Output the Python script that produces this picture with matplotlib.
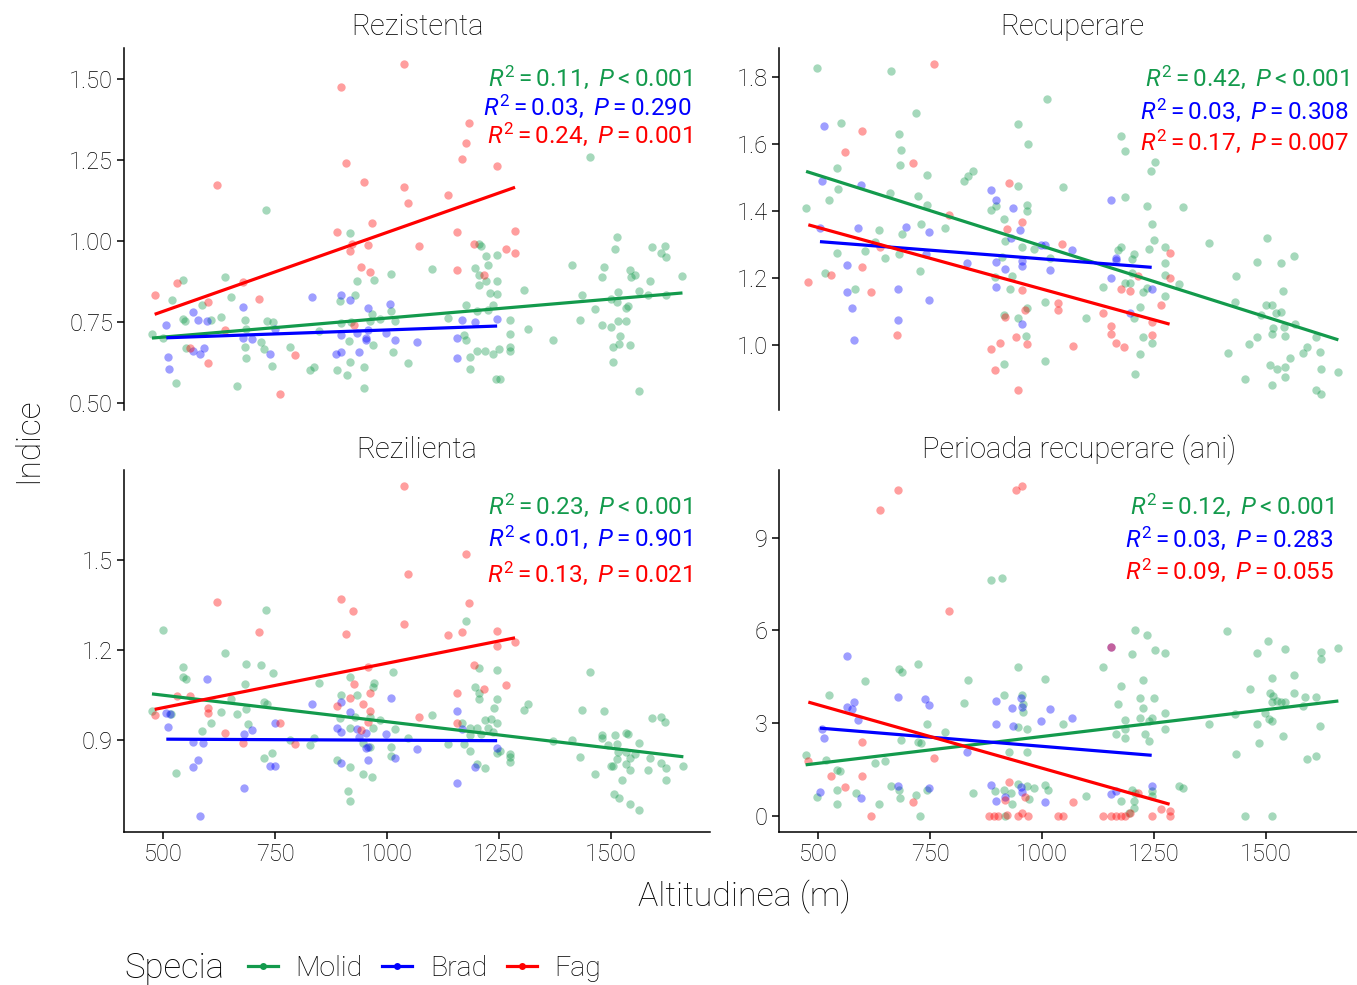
import matplotlib
matplotlib.use("Agg")
import matplotlib.pyplot as plt
from matplotlib.lines import Line2D
import numpy as np

plt.rcParams['font.family'] = ['Roboto', 'DejaVu Sans']
plt.rcParams['font.weight'] = 'light'
plt.rcParams['mathtext.fontset'] = 'custom'
plt.rcParams['mathtext.rm'] = 'Roboto:weight=normal'
plt.rcParams['mathtext.it'] = 'Roboto:italic:weight=normal'

# species and colours
species = ['Molid', 'Brad', 'Fag']
colors = ['#139a4c', '#0000ff', '#ff0000']

# ---- Rezistenta (altitude, value) ----
rezistenta_molid = np.array([
    (475, 0.714), (499, 0.700), (519, 0.819), (545, 0.879), (528, 0.562), (545, 0.760), (548, 0.752),
    (551, 0.669), (586, 0.804), (607, 0.755), (637, 0.890), (652, 0.828), (630, 0.765), (665, 0.552),
    (683, 0.756), (684, 0.728), (683, 0.672), (686, 0.640), (729, 1.097), (719, 0.687), (725, 0.666),
    (731, 0.754), (745, 0.750), (744, 0.614), (784, 0.674), (827, 0.602), (836, 0.610), (847, 0.721),
    (888, 0.602), (911, 0.587), (918, 0.628), (948, 0.611), (948, 0.546), (917, 1.024), (933, 0.877),
    (929, 0.832), (895, 0.814), (915, 0.692), (897, 0.747), (920, 0.750), (970, 0.881), (967, 0.775),
    (961, 0.752), (984, 0.760), (1008, 0.897), (1008, 0.785), (1018, 0.752), (1013, 0.657), (1046, 0.622),
    (968, 0.680), (1206, 0.992), (1210, 0.984), (1221, 0.953), (1246, 0.958), (1226, 0.926), (1100, 0.914),
    (1196, 0.917), (1206, 0.896), (1221, 0.876), (1206, 0.863), (1246, 0.876), (1231, 0.840), (1246, 0.836),
    (1305, 0.850), (1176, 0.803), (1236, 0.803), (1225, 0.788), (1202, 0.783), (1137, 0.764), (1171, 0.711),
    (1176, 0.695), (1186, 0.641), (1201, 0.659), (1219, 0.659), (1236, 0.651), (1251, 0.666), (1275, 0.757),
    (1275, 0.713), (1275, 0.674), (1275, 0.662), (1315, 0.728), (1186, 0.605), (1243, 0.573), (1253, 0.573),
    (1370, 0.695), (1414, 0.927), (1435, 0.834), (1431, 0.756), (1464, 0.791), (1454, 1.260), (1480, 0.742),
    (1484, 0.919), (1481, 0.889), (1509, 0.977), (1513, 1.012), (1500, 0.822), (1515, 0.843), (1513, 0.811),
    (1515, 0.754), (1501, 0.735), (1534, 0.793), (1534, 0.752), (1539, 0.801), (1521, 0.708), (1505, 0.674),
    (1519, 0.682), (1543, 0.680), (1504, 0.628), (1563, 0.538), (1543, 0.911), (1554, 0.894), (1545, 0.888),
    (1563, 0.845), (1583, 0.833), (1587, 0.876), (1593, 0.983), (1611, 0.963), (1621, 0.985), (1623, 0.952),
    (1623, 0.834), (1660, 0.893)])
rezistenta_brad = np.array([
    (507, 0.742), (566, 0.780), (577, 0.757), (597, 0.753), (679, 0.797), (511, 0.643), (514, 0.605),
    (566, 0.662), (583, 0.651), (591, 0.669), (679, 0.700), (699, 0.698), (739, 0.651), (749, 0.728),
    (833, 0.826), (897, 0.832), (918, 0.817), (958, 0.793), (1007, 0.806), (898, 0.711), (933, 0.717),
    (958, 0.724), (952, 0.695), (953, 0.702), (998, 0.717), (1018, 0.694), (1067, 0.688), (887, 0.651),
    (898, 0.656), (938, 0.656), (1167, 0.756), (1196, 0.750), (1246, 0.759), (1156, 0.702), (1156, 0.640)])
rezistenta_fag = np.array([
    (1037, 1.546), (897, 1.477), (908, 1.243), (948, 1.183), (1037, 1.167), (1046, 1.119), (620, 1.175),
    (888, 1.029), (967, 1.055), (922, 0.992), (958, 0.987), (918, 0.969), (1071, 0.984), (942, 0.920),
    (963, 0.905), (481, 0.834), (530, 0.870), (679, 0.874), (713, 0.821), (600, 0.812), (639, 0.724),
    (561, 0.669), (600, 0.622), (794, 0.648), (760, 0.529), (927, 0.740), (1184, 1.364), (1176, 1.304),
    (1167, 1.255), (1246, 1.233), (1137, 1.144), (1156, 1.027), (1286, 1.030), (1195, 0.992), (1266, 0.975),
    (1286, 0.962), (1216, 0.896), (1156, 0.911)])

# ---- Recuperare ----
recuperare_molid = np.array([
    (498, 1.824), (663, 1.816), (718, 1.690), (550, 1.661), (681, 1.628), (684, 1.581), (683, 1.536),
    (543, 1.527), (744, 1.508), (845, 1.520), (835, 1.505), (825, 1.488), (545, 1.466), (525, 1.431),
    (473, 1.408), (660, 1.452), (724, 1.444), (744, 1.416), (730, 1.362), (783, 1.348), (635, 1.342),
    (628, 1.308), (687, 1.330), (604, 1.279), (650, 1.259), (680, 1.271), (543, 1.274), (516, 1.216),
    (583, 1.166), (727, 1.220), (947, 1.660), (968, 1.599), (1012, 1.734), (947, 1.474), (1046, 1.471),
    (967, 1.416), (967, 1.401), (887, 1.403), (897, 1.414), (914, 1.377), (917, 1.311), (956, 1.293),
    (983, 1.286), (1017, 1.261), (911, 1.263), (932, 1.206), (894, 1.202), (929, 1.167), (967, 1.112),
    (1006, 1.129), (947, 1.082), (965, 1.027), (915, 1.090), (915, 0.943), (1006, 0.952),
    (1176, 1.624), (1185, 1.579), (1252, 1.546), (1243, 1.520), (1185, 1.441), (1235, 1.415), (1315, 1.413),
    (1245, 1.361), (1176, 1.292), (1170, 1.282), (1250, 1.313), (1239, 1.287), (1275, 1.292), (1205, 1.271),
    (1200, 1.256), (1275, 1.244), (1275, 1.209), (1202, 1.214), (1185, 1.186), (1196, 1.186), (1305, 1.182),
    (1136, 1.174), (1235, 1.169), (1226, 1.159), (1220, 1.113), (1275, 1.146), (1205, 1.080), (1099, 1.082),
    (1226, 1.024), (1245, 1.007), (1220, 0.974), (1208, 0.915), (1372, 1.304), (1503, 1.319), (1434, 1.206),
    (1480, 1.249), (1564, 1.265), (1533, 1.244), (1431, 1.129), (1539, 1.162), (1500, 1.119), (1513, 1.121),
    (1522, 1.096), (1533, 1.099), (1489, 1.090), (1515, 1.050), (1541, 1.055), (1565, 1.064), (1513, 1.032),
    (1543, 1.028), (1481, 1.024), (1463, 1.004), (1415, 0.978), (1612, 1.023), (1593, 0.995), (1583, 0.978),
    (1554, 0.962), (1621, 0.980), (1509, 0.942), (1524, 0.930), (1543, 0.935), (1543, 0.906), (1454, 0.898),
    (1513, 0.881), (1623, 0.928), (1662, 0.920), (1612, 0.866), (1623, 0.856)])
recuperare_brad = np.array([
    (512, 1.653), (508, 1.488), (595, 1.477), (887, 1.462), (897, 1.431), (936, 1.408), (951, 1.342),
    (504, 1.350), (588, 1.350), (697, 1.353), (747, 1.337), (564, 1.238), (678, 1.166), (564, 1.158),
    (575, 1.112), (580, 1.014), (678, 1.074), (747, 1.134), (832, 1.245), (897, 1.247), (917, 1.227),
    (956, 1.235), (956, 1.251), (956, 1.063), (897, 1.173), (931, 1.318), (997, 1.298), (1006, 1.298),
    (1017, 1.224), (1066, 1.282), (741, 1.271), (1155, 1.432), (1166, 1.259), (1166, 1.254), (1155, 1.199),
    (1245, 1.166), (1196, 1.097)])
recuperare_fag = np.array([
    (759, 1.836), (598, 1.638), (559, 1.574), (711, 1.544), (926, 1.483), (793, 1.388), (956, 1.368),
    (921, 1.345), (639, 1.291), (598, 1.232), (528, 1.209), (478, 1.187), (619, 1.159), (956, 1.164),
    (962, 1.105), (917, 1.085), (1045, 1.302), (1036, 1.127), (1036, 1.105), (1070, 0.997), (941, 1.025),
    (966, 1.005), (906, 1.008), (887, 0.990), (896, 0.927), (947, 0.866), (677, 1.030), (1285, 1.274),
    (1285, 1.199), (1176, 1.166), (1196, 1.162), (1215, 1.206), (1136, 1.097), (1265, 1.119), (1245, 1.070),
    (1155, 1.058), (1155, 1.034), (1245, 1.030), (1166, 1.007), (1183, 0.994)])

# ---- Rezilienta ----
rezilienta_molid = np.array([
    (500, 1.268), (475, 0.998), (518, 0.989), (545, 1.143), (545, 1.112), (551, 1.103), (528, 0.792),
    (586, 0.930), (607, 0.958), (637, 1.189), (652, 1.037), (630, 0.993), (665, 0.988), (685, 1.153),
    (683, 1.086), (686, 1.003), (689, 0.955), (729, 1.334), (719, 1.151), (746, 1.123), (725, 1.029),
    (731, 1.020), (725, 0.842), (744, 0.859), (784, 0.901), (827, 0.885), (836, 0.907), (847, 1.089),
    (917, 1.111), (897, 1.051), (933, 1.051), (895, 0.973), (929, 0.979), (918, 0.942), (970, 1.089),
    (969, 1.078), (961, 0.979), (984, 0.968), (968, 0.942), (1013, 1.128), (1018, 0.937), (1008, 0.878),
    (1008, 0.847), (1046, 0.907), (888, 0.835), (918, 0.812), (947, 0.787), (967, 0.779), (912, 0.731),
    (917, 0.698), (946, 0.892), (961, 0.878),
    (1176, 1.298), (1206, 1.142), (1246, 1.133), (1197, 1.078), (1206, 1.057), (1206, 1.036), (1100, 0.985),
    (1246, 1.037), (1240, 1.007), (1305, 1.000), (1315, 1.020), (1232, 0.972), (1219, 0.967), (1246, 0.959),
    (1167, 0.959), (1186, 0.942), (1201, 0.942), (1226, 0.942), (1236, 0.928), (1211, 0.922), (1186, 0.918),
    (1137, 0.889), (1173, 0.887), (1186, 0.865), (1246, 0.859), (1253, 0.865), (1275, 0.856), (1275, 0.845),
    (1275, 0.829), (1201, 0.820), (1219, 0.807), (1370, 0.898), (1414, 0.900), (1431, 0.846), (1435, 1.000),
    (1454, 1.128), (1464, 0.787), (1484, 0.996), (1480, 0.918), (1481, 0.907), (1494, 0.883), (1509, 0.918),
    (1513, 0.887), (1534, 0.926), (1539, 0.920), (1563, 0.890), (1515, 0.862), (1534, 0.862), (1543, 0.842),
    (1554, 0.853), (1513, 0.837), (1500, 0.815), (1505, 0.815), (1534, 0.823), (1543, 0.800), (1524, 0.767),
    (1583, 0.803), (1587, 0.842), (1611, 0.826), (1623, 0.807), (1623, 0.768), (1662, 0.815), (1593, 0.973),
    (1611, 0.979), (1621, 0.962), (1506, 0.720), (1519, 0.707), (1543, 0.690), (1563, 0.668)])
rezilienta_brad = np.array([
    (597, 1.103), (507, 0.992), (511, 0.946), (516, 0.989), (566, 0.895), (590, 0.892), (577, 0.833),
    (566, 0.811), (583, 0.650), (680, 0.742), (680, 0.922), (699, 0.936), (749, 0.957), (739, 0.815),
    (749, 0.815), (833, 1.020), (898, 1.029), (918, 0.995), (888, 0.942), (898, 0.928), (932, 0.937),
    (952, 0.923), (938, 0.912), (953, 0.876), (958, 0.878), (958, 0.835), (898, 0.826), (1008, 1.042),
    (998, 0.922), (1018, 0.841), (1067, 0.872), (1156, 0.998), (1167, 0.939), (1246, 0.876), (1196, 0.812),
    (1156, 0.757)])
rezilienta_fag = np.array([
    (1037, 1.744), (1046, 1.454), (1037, 1.286), (621, 1.361), (897, 1.371), (923, 1.330), (908, 1.252),
    (713, 1.261), (958, 1.145), (927, 1.088), (918, 1.042), (888, 1.015), (947, 1.020), (963, 1.056),
    (963, 0.996), (958, 0.961), (942, 0.935), (530, 1.046), (561, 1.046), (600, 1.009), (600, 0.992),
    (481, 0.985), (639, 0.926), (679, 0.890), (760, 0.959), (794, 0.887), (1071, 0.976), (1176, 1.520),
    (1184, 1.356), (1137, 1.250), (1167, 1.261), (1246, 1.264), (1246, 1.214), (1286, 1.226), (1195, 1.150),
    (1216, 1.072), (1266, 1.085), (1156, 1.057), (1156, 0.957)])

# ---- Perioada recuperare (ani) ----
perioada_molid = np.array([
    (472, 1.95), (498, 0.60), (517, 1.80), (525, 3.90), (543, 1.49), (549, 1.46), (543, 0.84), (543, 0.39),
    (584, 0.74), (604, 4.36), (628, 1.69), (650, 1.77), (635, 0.39), (662, 0.95), (680, 4.76), (687, 4.67),
    (681, 0.84), (683, 0.57), (684, 2.44), (724, 4.90), (724, 2.38), (730, 2.36), (743, 2.96), (718, 0.68),
    (727, 0.00), (744, 0.84), (783, 2.72), (825, 3.66), (835, 4.40), (845, 0.74), (887, 7.64), (910, 7.70),
    (915, 3.90), (946, 4.82), (956, 3.90), (957, 3.61), (957, 3.37), (947, 2.87), (967, 2.82), (927, 2.07),
    (967, 2.07), (1006, 4.44), (1046, 2.98), (947, 1.01), (967, 0.97), (983, 0.88), (1006, 0.98), (1014, 0.82),
    (894, 0.79), (914, 0.84), (930, 0.74), (971, 0.54), (932, 0.36), (918, 0.00),
    (1208, 6.01), (1235, 5.84), (1252, 5.37), (1275, 5.26), (1200, 5.23), (1136, 4.82), (1176, 4.20),
    (1226, 4.39), (1218, 3.82), (1250, 3.82), (1170, 3.61), (1226, 3.50), (1185, 3.09), (1218, 3.15),
    (1245, 3.17), (1275, 3.31), (1239, 3.06), (1185, 2.79), (1275, 2.82), (1166, 2.65), (1230, 2.63),
    (1185, 2.50), (1239, 2.41), (1099, 0.63), (1202, 0.84), (1208, 0.74), (1176, 0.47), (1206, 0.47),
    (1245, 0.81), (1245, 0.63), (1305, 0.95), (1315, 0.88), (1194, 0.09), (1206, 0.25), (1414, 5.97),
    (1505, 5.66), (1480, 5.26), (1542, 5.41), (1623, 5.31), (1623, 5.09), (1662, 5.43), (1513, 4.47),
    (1563, 4.56), (1464, 4.09), (1509, 3.98), (1516, 3.86), (1524, 3.71), (1533, 3.69), (1543, 3.69),
    (1563, 3.97), (1587, 3.84), (1612, 3.84), (1583, 3.55), (1513, 3.69), (1498, 3.34), (1507, 3.12),
    (1513, 3.06), (1431, 3.30), (1372, 2.96), (1480, 2.96), (1621, 2.90), (1539, 2.58), (1484, 2.36),
    (1434, 1.98), (1593, 1.82), (1612, 1.93), (1454, 0.00), (1513, 0.00)])
perioada_brad = np.array([
    (564, 5.18), (678, 3.85), (738, 3.77), (747, 3.57), (564, 3.53), (575, 3.47), (580, 3.69), (588, 3.09),
    (508, 2.82), (512, 2.51), (897, 3.71), (952, 3.80), (932, 3.50), (956, 3.52), (897, 2.97), (936, 2.91),
    (997, 3.08), (1017, 3.47), (1066, 3.17), (832, 2.07), (504, 0.76), (595, 0.57), (678, 0.95), (747, 0.90),
    (887, 0.98), (952, 0.93), (956, 0.77), (917, 0.60), (897, 0.47), (1006, 0.44), (1155, 5.45), (1155, 0.70),
    (1166, 0.81), (1245, 0.97)])
perioada_fag = np.array([
    (678, 10.57), (956, 10.67), (941, 10.54), (638, 9.90), (793, 6.63), (598, 2.38), (598, 1.28), (759, 1.87),
    (528, 1.28), (478, 1.78), (559, 0.93), (712, 0.44), (619, 0.00), (926, 1.08), (962, 0.60), (917, 0.52),
    (881, 0.00), (892, 0.00), (902, 0.00), (921, 0.03), (946, 0.00), (956, 0.07), (968, 0.00), (1036, 0.00),
    (1047, 0.00), (1070, 0.43), (1155, 5.45), (1215, 0.74), (1136, 0.00), (1155, 0.00), (1166, 0.00),
    (1176, 0.00), (1185, 0.00), (1245, 0.00), (1265, 0.22), (1285, 0.14), (1285, 0.00), (1196, 0.09)])

# panel titles, ticks and regression labels
titles = ['Rezistenta', 'Recuperare', 'Rezilienta', 'Perioada recuperare (ani)']
yticks = [[0.50, 0.75, 1.00, 1.25, 1.50], [1.0, 1.2, 1.4, 1.6, 1.8], [0.9, 1.2, 1.5], [0, 3, 6, 9]]
yfmt = ['{:.2f}', '{:.1f}', '{:.1f}', '{:.0f}']
xticks = [500, 750, 1000, 1250, 1500]
stats = [
    [r'$R^2 = \mathrm{0.11},\ P < \mathrm{0.001}$', r'$R^2 = \mathrm{0.03},\ P = \mathrm{0.290}$', r'$R^2 = \mathrm{0.24},\ P = \mathrm{0.001}$'],
    [r'$R^2 = \mathrm{0.42},\ P < \mathrm{0.001}$', r'$R^2 = \mathrm{0.03},\ P = \mathrm{0.308}$', r'$R^2 = \mathrm{0.17},\ P = \mathrm{0.007}$'],
    [r'$R^2 = \mathrm{0.23},\ P < \mathrm{0.001}$', r'$R^2 < \mathrm{0.01},\ P = \mathrm{0.901}$', r'$R^2 = \mathrm{0.13},\ P = \mathrm{0.021}$'],
    [r'$R^2 = \mathrm{0.12},\ P < \mathrm{0.001}$', r'$R^2 = \mathrm{0.03},\ P = \mathrm{0.283}$', r'$R^2 = \mathrm{0.09},\ P = \mathrm{0.055}$'],
]

panels = [
    [rezistenta_molid, rezistenta_brad, rezistenta_fag],
    [recuperare_molid, recuperare_brad, recuperare_fag],
    [rezilienta_molid, rezilienta_brad, rezilienta_fag],
    [perioada_molid, perioada_brad, perioada_fag],
]

W, H = 1357, 985
fig = plt.figure(figsize=(W / 100, H / 100), dpi=100)

# panel boxes in pixels: left, top, right, bottom
boxes = [(124, 48, 710, 410), (779, 48, 1365, 410), (124, 470, 710, 832), (779, 470, 1365, 832)]
title_pos = [(417, 27), (1072, 27), (417, 450), (1079, 450)]
stat_pos = [(0.969, [0.920, 0.840, 0.762]), (0.973, [0.920, 0.829, 0.743]),
            (0.969, [0.903, 0.815, 0.715]), (0.947, [0.903, 0.812, 0.724])]

all_x = np.concatenate([d[:, 0] for p in panels for d in p])
xr = all_x.max() - all_x.min()
xlim = (all_x.min() - 0.05 * xr, all_x.max() + 0.05 * xr)

for i, (l, t, r, b) in enumerate(boxes):
    ax = fig.add_axes([l / W, 1 - b / H, (r - l) / W, (b - t) / H])
    for data, c in zip(panels[i], colors):
        ax.scatter(data[:, 0], data[:, 1], s=36, color=c, alpha=0.38, linewidths=0, zorder=2)
    for data, c in zip(panels[i], colors):
        k, m = np.polyfit(data[:, 0], data[:, 1], 1)
        xs = np.array([data[:, 0].min(), data[:, 0].max()])
        ax.plot(xs, k * xs + m, color=c, lw=2.3, zorder=3, solid_capstyle='butt')
    all_y = np.concatenate([d[:, 1] for d in panels[i]])
    yr = all_y.max() - all_y.min()
    ax.set_ylim(all_y.min() - 0.05 * yr, all_y.max() + 0.05 * yr)
    ax.set_xlim(xlim)
    ax.set_yticks(yticks[i])
    ax.set_yticklabels([yfmt[i].format(v) for v in yticks[i]])
    ax.set_xticks(xticks)
    ax.spines['top'].set_visible(False)
    ax.spines['right'].set_visible(False)
    ax.spines['left'].set_linewidth(1.1)
    ax.spines['bottom'].set_linewidth(1.1)
    ax.tick_params(direction='out', length=5, width=1.1, labelsize=17, colors='black', pad=3)
    if i < 2:
        ax.spines['bottom'].set_visible(False)
        ax.tick_params(axis='x', bottom=False, labelbottom=False)
    tx, ty = title_pos[i]
    fig.text(tx / W, 1 - ty / H, titles[i], ha='center', va='center', fontsize=21)
    sx, sys_ = stat_pos[i]
    for txt, c, yy in zip(stats[i], colors, sys_):
        ax.text(sx, yy, txt, transform=ax.transAxes, ha='right', va='center', color=c, fontsize=17.5)

fig.text(744 / W, 1 - 897 / H, 'Altitudinea (m)', ha='center', va='center', fontsize=24.5)
fig.text(28 / W, 1 - 440 / H, 'Indice', ha='center', va='center', rotation=90, fontsize=24)

fig.text(124 / W, 1 - 968 / H, 'Specia', ha='left', va='center', fontsize=25)
handles = [Line2D([0], [0], color=c, lw=2.3, marker='o', markersize=5, markerfacecolor=c,
                  markeredgewidth=0, alpha=1) for c in colors]
fig.legend(handles, species, loc='center left', bbox_to_anchor=(222 / W, 1 - 968 / H), ncol=3,
           frameon=False, fontsize=20.5, handlelength=1.05, handletextpad=0.62, columnspacing=0.7)

fig.savefig('out.png', dpi=100)
